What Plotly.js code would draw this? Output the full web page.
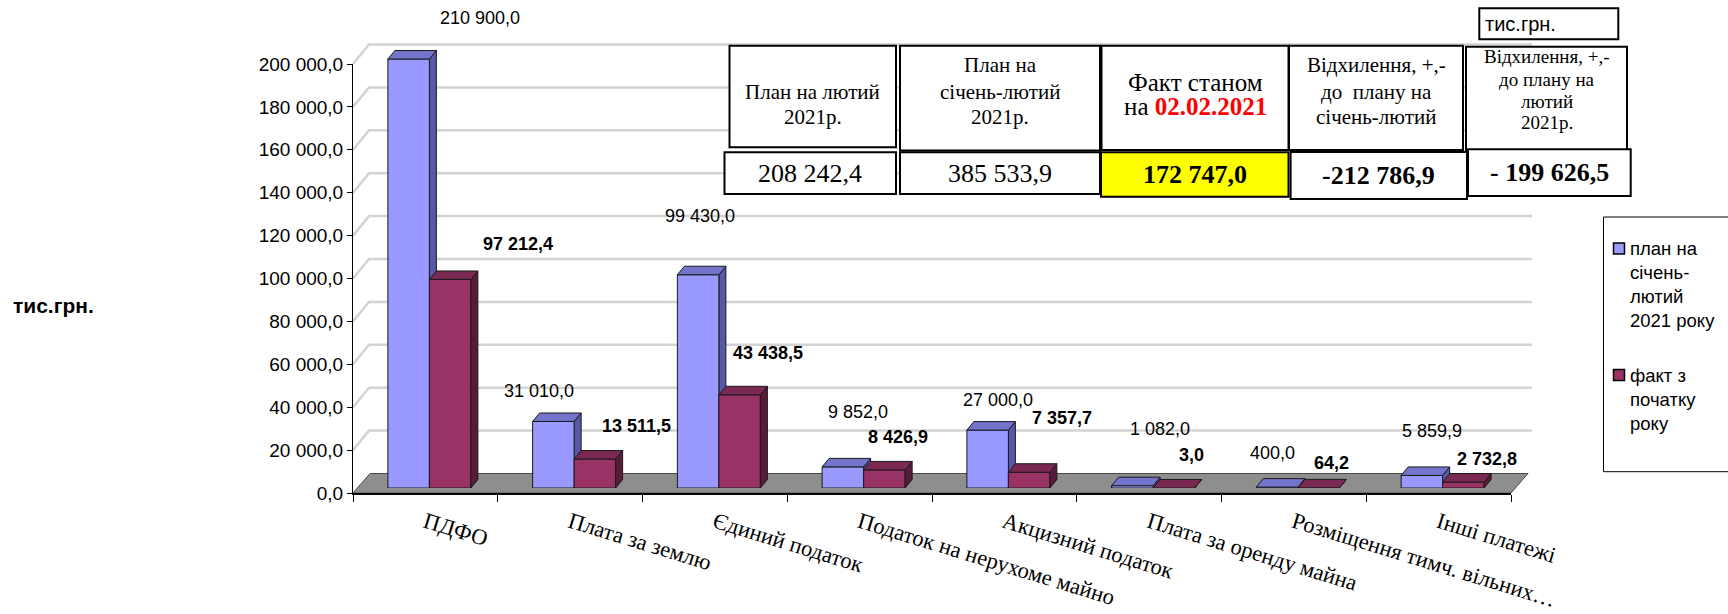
<!DOCTYPE html>
<html><head><meta charset="utf-8">
<script src="https://cdn.plot.ly/plotly-3.0.1.min.js"></script>
<style>html,body{margin:0;padding:0;background:#fff}#chart{width:1728px;height:614px}</style>
</head><body><div id="chart"></div>
<script>
// ---------------- DATA ----------------
const categories = ['ПДФО','Плата за землю','Єдиний податок','Податок на нерухоме майно','Акцизний податок','Плата за оренду майна','Розміщення тимч. вільних…','Інші платежі'];
const planValues = [210900.0, 31010.0, 99430.0, 9852.0, 27000.0, 1082.0, 400.0, 5859.9];
const factValues = [97212.4, 13511.5, 43438.5, 8426.9, 7357.7, 3.0, 64.2, 2732.8];
const seriesNames = ['план на<br>січень-<br>лютий<br>2021 року', 'факт з<br>початку<br>року'];
const yTickValues = [0,20000,40000,60000,80000,100000,120000,140000,160000,180000,200000];
const unitLabel = 'тис.грн.';
const tableHeaders = [
  ['План на лютий','2021р.'],
  ['План на','січень-лютий','2021р.'],
  ['Факт станом','на <b><span style="color:#FF0000">02.02.2021</span></b>'],
  ['Відхилення, +,-','до  плану на','січень-лютий'],
  ['Відхилення, +,-','до плану на','лютий','2021р.']
];
const tableValues = ['208 242,4','385 533,9','172 747,0','-212 786,9','- 199 626,5'];

// ---------------- LAYOUT GEOMETRY ----------------
const L = 353, B = 493, T = 0, RPX = 1532;
const plotW = RPX - L, plotH = B - T;
const catW = 144.75;
const Y_MAX = 200000;
const yTopPx = 64;
const k = (B - yTopPx) / Y_MAX;
const barShift = {x: 4, y: 5};
const barDepth = {x: 7, y: 8.5};
const floorDepth = {x: 17, y: 19.5};
const wallDepth = {x: 16, y: 19.5};
const barWpx = 41.5;
const barWu = barWpx / catW;
const colors = {plan: '#9999FF', planTop: '#7474CC', planSide: '#5858A8', fact: '#993366', factTop: '#7A2952', factSide: '#561C39'};
const serif = 'Liberation Serif, Times New Roman, serif';
const sans = 'Liberation Sans, Arial, sans-serif';

const px = x => (x - L) / plotW;
const py = y => (B - y) / plotH;

function fmt(v) {
  const s = v.toFixed(1).split('.');
  return s[0].replace(/\B(?=(\d{3})+(?!\d))/g, ' ') + ',' + s[1];
}

// label offsets (px) relative to bar top centre
const planLabelShift = [[71,18],[-14,30],[2,59],[15,55],[10,30],[28,57],[-5,34],[10,44]];
const factLabelShift = [[68,35],[42,33],[28,42],[14,33],[33,54],[18,33],[13,25],[24,23]];

const idx = categories.map((_, i) => i);
const shownPlan = planValues.map(v => Math.min(v, Y_MAX));
const shownFact = factValues.map(v => Math.min(v, Y_MAX));

const traces = [
  // carrier for the visible category / value axes (no marks)
  {type: 'scatter', x: [0], y: [null], xaxis: 'x', yaxis: 'y', mode: 'markers', marker: {opacity: 0}, hoverinfo: 'skip', showlegend: false},
  {type: 'bar', x: idx, y: shownPlan, customdata: planValues, xaxis: 'x2', yaxis: 'y2', name: seriesNames[0],
   marker: {color: colors.plan, line: {color: '#1a1a1a', width: 1}}, hovertemplate: '%{customdata}<extra></extra>', showlegend: false},
  {type: 'bar', x: idx, y: shownFact, customdata: factValues, xaxis: 'x2', yaxis: 'y2', name: seriesNames[1],
   marker: {color: colors.fact, line: {color: '#1a1a1a', width: 1}}, hovertemplate: '%{customdata}<extra></extra>', showlegend: false}
];

const shapes = [];
const annotations = [];

// floor
{
  const fx0 = L, fx1 = L + 8 * catW, fy = B;
  shapes.push({type: 'path', xref: 'paper', yref: 'paper', layer: 'below',
    path: `M${px(fx0)},${py(fy)} L${px(fx1)},${py(fy)} L${px(fx1 + floorDepth.x)},${py(fy - floorDepth.y)} L${px(fx0 + floorDepth.x)},${py(fy - floorDepth.y)} Z`,
    fillcolor: '#8E8E8E', line: {color: '#4a4a4a', width: 1}});
}
// back-wall grid lines + side-wall slants
yTickValues.filter(v => v > 0).forEach(v => {
  const y0 = B - v * k;
  shapes.push({type: 'path', xref: 'paper', yref: 'paper', layer: 'below',
    path: `M${px(L)},${py(y0)} L${px(L + wallDepth.x)},${py(y0 - wallDepth.y)} L${px(RPX)},${py(y0 - wallDepth.y)}`,
    line: {color: '#D3D3D3', width: 2.5}});
});

// 3D bar faces
const dxu = barDepth.x / catW, dyu = barDepth.y / k;
function faces(values, offset, cTop, cSide, sideLayer) {
  values.forEach((v, i) => {
    const x0 = i + offset, x1 = x0 + barWu;
    shapes.push({type: 'path', xref: 'x2', yref: 'y2', layer: sideLayer,
      path: `M${x1},0 L${x1},${v} L${x1 + dxu},${v + dyu} L${x1 + dxu},${dyu} Z`,
      fillcolor: cSide, line: {color: '#1a1a1a', width: 1}});
    shapes.push({type: 'path', xref: 'x2', yref: 'y2', layer: 'above',
      path: `M${x0},${v} L${x1},${v} L${x1 + dxu},${v + dyu} L${x0 + dxu},${v + dyu} Z`,
      fillcolor: cTop, line: {color: '#1a1a1a', width: 1}});
  });
}
faces(shownPlan, -barWu, colors.planTop, colors.planSide, 'below');
faces(shownFact, 0, colors.factTop, colors.factSide, 'above');

// data labels
planValues.forEach((v, i) => {
  annotations.push({xref: 'x2', yref: 'y2', x: i - barWu / 2, y: v, text: fmt(v), showarrow: false,
    xanchor: 'center', yanchor: 'middle', xshift: planLabelShift[i][0], yshift: planLabelShift[i][1],
    font: {family: sans, size: 18, color: '#000'}});
});
factValues.forEach((v, i) => {
  annotations.push({xref: 'x2', yref: 'y2', x: i + barWu / 2, y: v, text: '<b>' + fmt(v) + '</b>', showarrow: false,
    xanchor: 'center', yanchor: 'middle', xshift: factLabelShift[i][0], yshift: factLabelShift[i][1],
    font: {family: sans, size: 18, color: '#000'}});
});

// left unit label
annotations.push({xref: 'paper', yref: 'paper', x: px(11), y: py(305), text: '<b>' + unitLabel + '</b>', showarrow: false,
  xanchor: 'left', yanchor: 'middle', font: {family: sans, size: 21, color: '#000'}});

// ---- table ----
const headerBoxes = [[729.5,45.7,896,147.3],[900,45.7,1100,150.5],[1101.5,45.7,1288.5,150],[1289,45.7,1463,150],[1466,46.7,1627,150]];
const valueBoxes = [[724.5,152.3,896,194],[900,152.3,1100,194],[1101,152.3,1288.5,196.7],[1290.6,152,1467,199],[1468,149.3,1630.7,196]];
const headerLineY = [[91.7,117.3],[65,91.7,117.3],[82,106],[65,91.7,116.7],[57,79,101,123]];
const headerFont = [21,21,25,21,19];
const valueBold = [false,false,true,true,true];
const valueFill = ['#FFFFFF','#FFFFFF','#FFFF00','#FFFFFF','#FFFFFF'];

function rect(b, fill, lw) {
  shapes.push({type: 'rect', xref: 'paper', yref: 'paper', layer: 'above',
    x0: px(b[0]), x1: px(b[2]), y0: py(b[3]), y1: py(b[1]), fillcolor: fill, line: {color: '#000', width: lw}});
}
headerBoxes.forEach((b, c) => {
  rect(b, '#FFFFFF', 2);
  tableHeaders[c].forEach((t, j) => {
    annotations.push({xref: 'paper', yref: 'paper', x: px((b[0] + b[2]) / 2), y: py(headerLineY[c][j]), text: t, showarrow: false,
      xanchor: 'center', yanchor: 'middle', font: {family: serif, size: headerFont[c], color: '#000'}});
  });
});
valueBoxes.forEach((b, c) => {
  rect(b, valueFill[c], 2);
  annotations.push({xref: 'paper', yref: 'paper', x: px((b[0] + b[2]) / 2), y: py((b[1] + b[3]) / 2), showarrow: false,
    text: valueBold[c] ? '<b>' + tableValues[c] + '</b>' : tableValues[c],
    xanchor: 'center', yanchor: 'middle', font: {family: serif, size: 26, color: '#000'}});
});
// unit box top-right
rect([1479.3, 8.3, 1618.3, 39.3], '#FFFFFF', 2);
annotations.push({xref: 'paper', yref: 'paper', x: px(1483), y: py(24), text: unitLabel, showarrow: false,
  xanchor: 'left', yanchor: 'middle', font: {family: sans, size: 20, color: '#000'}});

// ---- legend (manual) ----
rect([1603.5, 217, 1760, 471.7], 'rgba(0,0,0,0)', 1);
const legendItems = [
  {color: colors.plan, marker: 248.5, textY: 284.5},
  {color: colors.fact, marker: 375, textY: 399}
];
legendItems.forEach((it, i) => {
  shapes.push({type: 'rect', xref: 'paper', yref: 'paper', layer: 'above',
    x0: px(1613.5), x1: px(1624.5), y0: py(it.marker + 5.5), y1: py(it.marker - 5.5), fillcolor: it.color, line: {color: '#000', width: 1.5}});
  annotations.push({xref: 'paper', yref: 'paper', x: px(1628), y: py(it.textY), text: seriesNames[i], showarrow: false,
    xanchor: 'left', yanchor: 'middle', align: 'left', font: {family: sans, size: 18.5, color: '#000'}});
});

const layout = {
  width: 1728, height: 614,
  margin: {l: L, r: 1728 - RPX, t: T, b: 614 - B, pad: 0},
  paper_bgcolor: '#fff', plot_bgcolor: 'rgba(0,0,0,0)',
  separators: ', ',
  showlegend: false,
  barmode: 'group', bargap: 1 - 2 * barWu, bargroupgap: 0,
  xaxis: {domain: [0, 8 * catW / plotW], range: [-0.5, 7.5], anchor: 'y', type: 'linear',
    tickmode: 'array', tickvals: idx, ticktext: categories, ticks: '', tickangle: 17, ticklabelstandoff: 6,
    tickfont: {family: serif, size: 22.5, color: '#000'},
    showline: true, linecolor: '#000', linewidth: 1.5, showgrid: false, zeroline: false,
    minor: {tickmode: 'array', tickvals: [-0.5,0.5,1.5,2.5,3.5,4.5,5.5,6.5,7.5], ticks: 'outside', ticklen: 7, tickcolor: '#000', tickwidth: 1, showgrid: false},
    fixedrange: true},
  yaxis: {domain: [0, (B - yTopPx) / plotH], range: [0, Y_MAX], anchor: 'x',
    tickmode: 'array', tickvals: yTickValues, tickformat: ',.1f', ticks: 'outside', ticklen: 5, tickcolor: '#000',
    tickfont: {family: sans, size: 19, color: '#000'},
    showline: true, linecolor: '#000', linewidth: 1, showgrid: false, zeroline: false, fixedrange: true},
  xaxis2: {domain: [barShift.x / plotW, (8 * catW + barShift.x) / plotW], range: [-0.5, 7.5], anchor: 'y2', visible: false, fixedrange: true},
  yaxis2: {domain: [barShift.y / plotH, 1], range: [0, (plotH - barShift.y) / k], anchor: 'x2', visible: false, fixedrange: true},
  shapes: shapes,
  annotations: annotations
};

Plotly.newPlot('chart', traces, layout, {displayModeBar: false, staticPlot: true});
</script>
</body></html>
